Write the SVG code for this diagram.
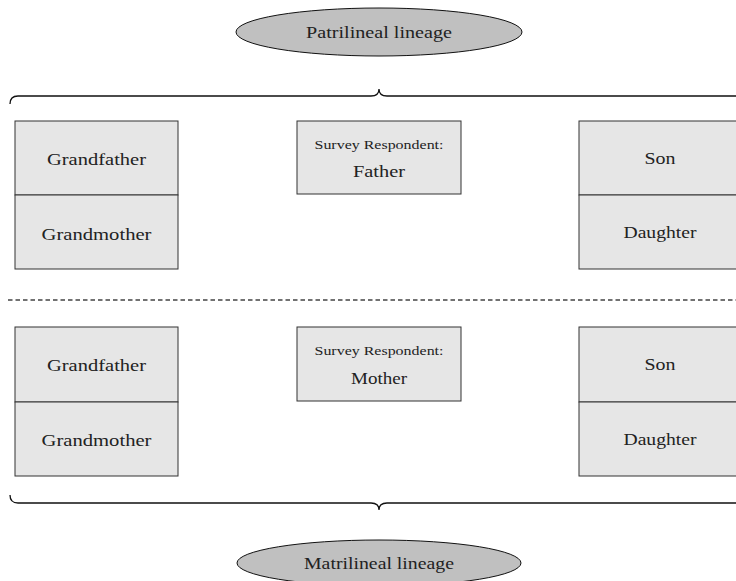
<svg xmlns="http://www.w3.org/2000/svg" width="736" height="581" viewBox="0 0 736 581">
<style>
.box{fill:#e6e6e6;stroke:#333;stroke-width:1}
.ell{fill:#c0c0c0;stroke:#111;stroke-width:1}
.t{font-family:"Liberation Serif","Times New Roman",serif;font-size:17.5px;fill:#222;text-anchor:middle}
.s{font-family:"Liberation Serif","Times New Roman",serif;font-size:12.5px;fill:#222;text-anchor:middle}
.brace{fill:none;stroke:#111;stroke-width:1.3}
</style>
<rect width="736" height="581" fill="#fff"/>
<g id="patrilineal"><ellipse class="ell" cx="379" cy="32" rx="143" ry="24"/><text class="t" x="379" y="38" textLength="146" lengthAdjust="spacingAndGlyphs">Patrilineal lineage</text></g>
<g id="connectors">
<path class="brace" d="M10,104 Q10,96 18,96 L371,96 Q379,96 379,89 Q379,96 387,96 L740,96"/>
<path class="brace" d="M10,495 Q10,503 18,503 L371,503 Q379,503 379,510 Q379,503 387,503 L740,503"/>
<line x1="8" y1="300" x2="736" y2="300" stroke="#444" stroke-width="1.3" stroke-dasharray="4.5 3"/>
</g>
<g id="p-grandfather"><rect class="box" x="15" y="121" width="163" height="74"/><text class="t" x="96.5" y="165" textLength="99" lengthAdjust="spacingAndGlyphs">Grandfather</text></g>
<g id="p-grandmother"><rect class="box" x="15" y="195" width="163" height="74"/><text class="t" x="96.5" y="240" textLength="110" lengthAdjust="spacingAndGlyphs">Grandmother</text></g>
<g id="p-father"><rect class="box" x="297" y="121" width="164" height="73"/><text class="s" x="379" y="149" textLength="129" lengthAdjust="spacingAndGlyphs">Survey Respondent:</text><text class="t" x="379" y="177" textLength="52" lengthAdjust="spacingAndGlyphs">Father</text></g>
<g id="p-son"><rect class="box" x="579" y="121" width="163" height="74"/><text class="t" x="660" y="164" textLength="31" lengthAdjust="spacingAndGlyphs">Son</text></g>
<g id="p-daughter"><rect class="box" x="579" y="195" width="163" height="74"/><text class="t" x="660" y="238" textLength="73" lengthAdjust="spacingAndGlyphs">Daughter</text></g>
<g id="m-grandfather"><rect class="box" x="15" y="327" width="163" height="75"/><text class="t" x="96.5" y="371" textLength="99" lengthAdjust="spacingAndGlyphs">Grandfather</text></g>
<g id="m-grandmother"><rect class="box" x="15" y="402" width="163" height="74"/><text class="t" x="96.5" y="446" textLength="110" lengthAdjust="spacingAndGlyphs">Grandmother</text></g>
<g id="m-mother"><rect class="box" x="297" y="327" width="164" height="74"/><text class="s" x="379" y="355" textLength="129" lengthAdjust="spacingAndGlyphs">Survey Respondent:</text><text class="t" x="379" y="384" textLength="56" lengthAdjust="spacingAndGlyphs">Mother</text></g>
<g id="m-son"><rect class="box" x="579" y="327" width="163" height="75"/><text class="t" x="660" y="370" textLength="31" lengthAdjust="spacingAndGlyphs">Son</text></g>
<g id="m-daughter"><rect class="box" x="579" y="402" width="163" height="74"/><text class="t" x="660" y="445" textLength="73" lengthAdjust="spacingAndGlyphs">Daughter</text></g>
<g id="matrilineal"><ellipse class="ell" cx="379" cy="563" rx="142" ry="23"/><text class="t" x="379" y="569" textLength="150" lengthAdjust="spacingAndGlyphs">Matrilineal lineage</text></g>
</svg>
